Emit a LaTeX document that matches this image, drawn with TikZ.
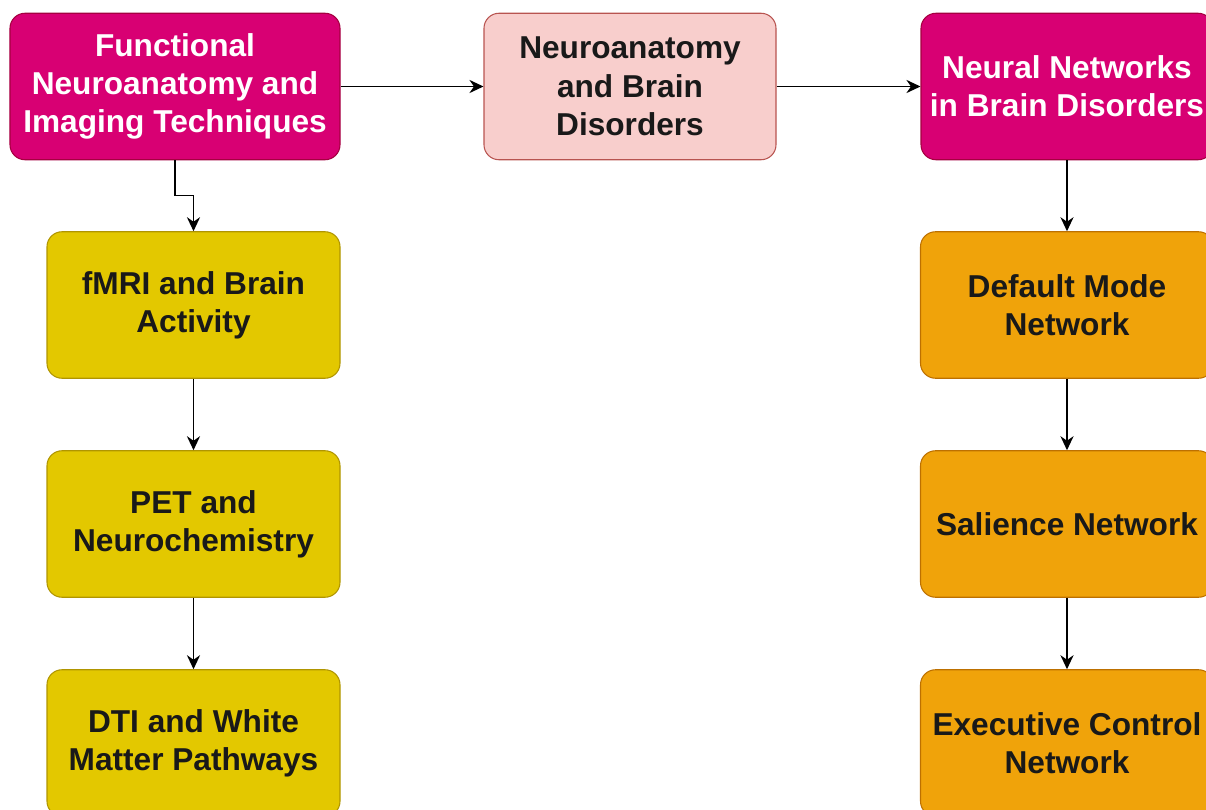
\documentclass[tikz,border=0pt]{standalone}
\usepackage{fontspec}
\setmainfont{Liberation Sans}
\usetikzlibrary{arrows.meta}

\definecolor{magentabox}{HTML}{D80073}
\definecolor{magentaline}{HTML}{A50040}
\definecolor{pinkbox}{HTML}{F8CECC}
\definecolor{pinkline}{HTML}{B85450}
\definecolor{yellowbox}{HTML}{E3C800}
\definecolor{yellowline}{HTML}{B09500}
\definecolor{orangebox}{HTML}{F0A30A}
\definecolor{orangeline}{HTML}{BD7000}

\begin{document}
\begin{tikzpicture}[
  box/.style={draw, rounded corners=0.3cm, align=center, line width=0.6pt,
    minimum height=2.93cm, font=\bfseries\fontsize{18}{21.8}\selectfont,
    text=black!90, inner sep=0pt},
  topic/.style={box, fill=magentabox, draw=magentaline, text=white},
  hub/.style={box, fill=pinkbox, draw=pinkline},
  method/.style={box, fill=yellowbox, draw=yellowline, minimum width=5.86cm},
  network/.style={box, fill=orangebox, draw=orangeline, minimum width=5.86cm},
  arr/.style={-{Stealth[length=8pt,width=7.5pt]}, line width=0.8pt}
]
\useasboundingbox (0,0) rectangle (24.12,-16.2);
\begin{scope}
\clip (0,0) rectangle (24.12,-16.2);

% Top row
\node[topic, minimum width=6.6cm] (func) at (3.5, -1.73) {Functional\\Neuroanatomy and\\Imaging Techniques};
\node[hub, minimum width=5.84cm] (hub) at (12.6, -1.73) {Neuroanatomy\\and Brain\\Disorders};
\node[topic, minimum width=5.84cm] (nets) at (21.34, -1.73) {Neural Networks\\in Brain Disorders};

% Imaging methods
\node[method] (fmri) at (3.87, -6.1) {fMRI and Brain\\Activity};
\node[method] (pet)  at (3.87, -10.48) {PET and\\Neurochemistry};
\node[method] (dti)  at (3.87, -14.86) {DTI and White\\Matter Pathways};

% Networks
\node[network] (dmn) at (21.34, -6.1) {Default Mode\\Network};
\node[network] (sal) at (21.34, -10.48) {Salience Network};
\node[network] (ecn) at (21.34, -14.86) {Executive Control\\Network};

% Links
\draw[arr] (func) -- (hub);
\draw[arr] (hub) -- (nets);
\draw[arr] (func.south) -- ++(0,-0.7) -| (fmri.north);
\draw[arr] (fmri) -- (pet);
\draw[arr] (pet) -- (dti);
\draw[arr] (nets) -- (dmn);
\draw[arr] (dmn) -- (sal);
\draw[arr] (sal) -- (ecn);
\end{scope}
\end{tikzpicture}
\end{document}
